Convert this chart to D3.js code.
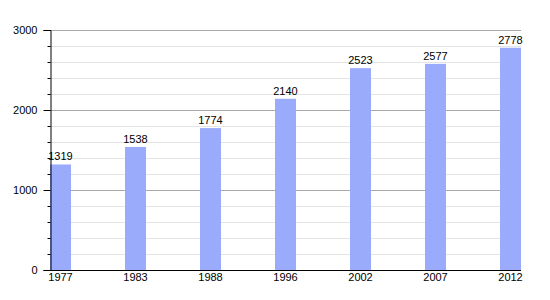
<!DOCTYPE html>
<html><head><meta charset="utf-8">
<script src="https://cdn.jsdelivr.net/npm/d3@7"></script>
<style>body{margin:0;background:#fff}svg{display:block;font-family:"Liberation Sans",Arial,sans-serif}</style>
</head><body>
<svg id="c" width="550" height="300"></svg>
<script>
const years = ["1977","1983","1988","1996","2002","2007","2012"];
const population = [1319,1538,1774,2140,2523,2577,2778];
const yTicks = [0,1000,2000,3000];

(function(){
const svg = d3.select("#c");
const mLeft = 50, mRight = 521, mTop = 30, mBottom = 270;
const x = d3.scaleBand().domain(years).range([mLeft, mLeft + 75*years.length]).padding(0);
const y = d3.scaleLinear().domain([0,3000]).range([mBottom, mTop]);
const bw = 21;

const minor = d3.range(200, 3000, 200).filter(v => v % 1000 !== 0);
svg.selectAll("line.minor").data(minor).join("line")
  .attr("x1", mLeft).attr("x2", mRight)
  .attr("y1", d => y(d)+0.5).attr("y2", d => y(d)+0.5)
  .attr("stroke", "#e4e4e4").attr("stroke-width", 1);
svg.selectAll("line.major").data([1000,2000,3000]).join("line")
  .attr("x1", mLeft).attr("x2", mRight)
  .attr("y1", d => y(d)+0.5).attr("y2", d => y(d)+0.5)
  .attr("stroke", "#a8a8a8").attr("stroke-width", 1);

svg.selectAll("rect.bar").data(population).join("rect")
  .attr("x", (d,i) => x(years[i]))
  .attr("y", d => y(d))
  .attr("width", bw)
  .attr("height", d => mBottom - y(d))
  .attr("fill", "#9aabfb");

svg.selectAll("text.val").data(population).join("text")
  .attr("x", (d,i) => x(years[i]) + bw/2)
  .attr("y", d => y(d) - 4)
  .attr("text-anchor", "middle")
  .attr("font-size", 11).attr("fill", "#000")
  .text(d => d);

const yAxis = d3.axisLeft(y).tickValues(yTicks).tickSize(7).tickFormat(d3.format("d"));
const gy = svg.append("g").attr("transform", `translate(${mLeft+0.5},0)`).call(yAxis);
gy.select(".domain").attr("stroke", "#000");
gy.selectAll(".tick text").attr("font-size", 11).attr("font-family", "Liberation Sans, Arial, sans-serif").attr("x", -13).attr("fill","#000");
const yMinor = d3.axisLeft(y).tickValues(minor).tickSize(3).tickFormat("");
const gm = svg.append("g").attr("transform", `translate(${mLeft+0.5},0)`).call(yMinor);
gm.select(".domain").remove();

const gx = svg.append("g").attr("transform", `translate(0,${mBottom+0.5})`)
  .call(d3.axisBottom(x).tickSize(0).tickFormat(d => d));
gx.select(".domain").attr("d", `M${mLeft-6},0H${mRight}`).attr("stroke", "#000");
gx.selectAll(".tick").attr("transform", d => `translate(${x(d)+bw/2},0)`);
gx.selectAll(".tick text").attr("font-size", 11).attr("font-family", "Liberation Sans, Arial, sans-serif").attr("dy", "0.55em").attr("y", 4).attr("fill","#000");
})();
</script>
</body></html>
